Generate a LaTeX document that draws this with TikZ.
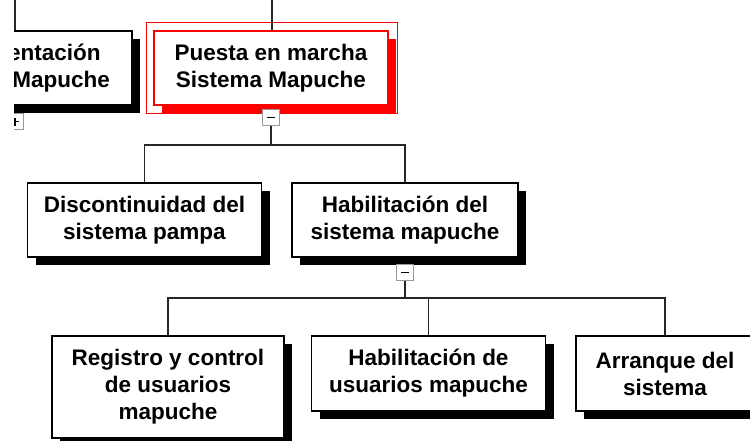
\documentclass[tikz,border=0pt]{standalone}
\usepackage{fontspec}
\setmainfont{Liberation Sans}
\usetikzlibrary{positioning,shadows}

\tikzset{
  box/.style={fill=white, align=center, inner sep=0pt,
    minimum width=234pt, minimum height=74pt,
    font=\bfseries\fontsize{22.5}{27}\selectfont},
  task/.style={box, draw=black, line width=1.6pt,
    drop shadow={shadow xshift=8pt, shadow yshift=-8pt, fill=black, opacity=1}},
  selected/.style={box, draw=red, line width=1.2pt,
    drop shadow={shadow xshift=8pt, shadow yshift=-8pt, fill=red, opacity=1}},
  link/.style={draw=black!85, line width=1.2pt},
  expander/.style={draw=black!40, line width=1.5pt, fill=white,
    minimum width=17pt, minimum height=16pt, inner sep=0pt},
  collapse/.style={expander, path picture={
    \draw[black, line width=1.5pt] ([xshift=-4pt]path picture bounding box.center)
      -- ([xshift=4pt]path picture bounding box.center);}},
  expand/.style={expander, path picture={
    \draw[black, line width=1.5pt] ([xshift=-4pt]path picture bounding box.center)
      -- ([xshift=4pt]path picture bounding box.center);
    \draw[black, line width=1.5pt] ([yshift=-4pt]path picture bounding box.center)
      -- ([yshift=4pt]path picture bounding box.center);}}
}

\begin{document}
\begin{tikzpicture}[x=1pt, y=-1pt]
  \useasboundingbox (0,0) rectangle (750,441);

  % upper level
  \begin{scope}
    \clip (14,0) rectangle (150,135);
    \node[task] (impl) at (15,68) {Implementación\\Sistema Mapuche};
    \node[expand, below=7pt of impl] (implexp) {};
  \end{scope}

  \node[selected] (puesta) at (271,68) {Puesta en marcha\\Sistema Mapuche};
  \draw[red, line width=1.2pt] ([xshift=-7pt,yshift=8pt]puesta.north west)
    rectangle ([xshift=9pt,yshift=-8pt]puesta.south east);
  \node[collapse, below=3pt of puesta] (puestaexp) {};

  \coordinate (top0) at (15,0);
  \coordinate (top1) at (272,0);
  \draw[link] (top0) -- (top0 |- impl.north);
  \draw[link] (top1) -- (top1 |- puesta.north);

  % middle level
  \node[task] (disc) at (144.5,220) {Discontinuidad del\\sistema pampa};
  \node[task, minimum width=226pt] (habsis) at (405,220) {Habilitación del\\sistema mapuche};
  \node[collapse, below=6pt of habsis] (habsisexp) {};

  \coordinate (bar1) at (puestaexp |- 0,145);
  \draw[link] (puestaexp) -- (bar1) -| (disc);
  \draw[link] (bar1) -| (habsis);

  % lower level
  \node[task, minimum width=232pt, minimum height=102pt] (reg) at (168,387)
    {Registro y control\\de usuarios\\mapuche};
  \node[task, minimum height=75pt] (habusr) at (428.5,373.5) {Habilitación de\\usuarios mapuche};
  \node[task, minimum width=178pt, minimum height=75pt] (arr) at (665,373.5) {Arranque del\\sistema};

  \coordinate (bar2) at (habsisexp |- 0,298);
  \draw[link] (habsisexp) -- (bar2) -| (reg);
  \draw[link] (bar2) -| (habusr);
  \draw[link] (bar2) -| (arr);
\end{tikzpicture}
\end{document}
